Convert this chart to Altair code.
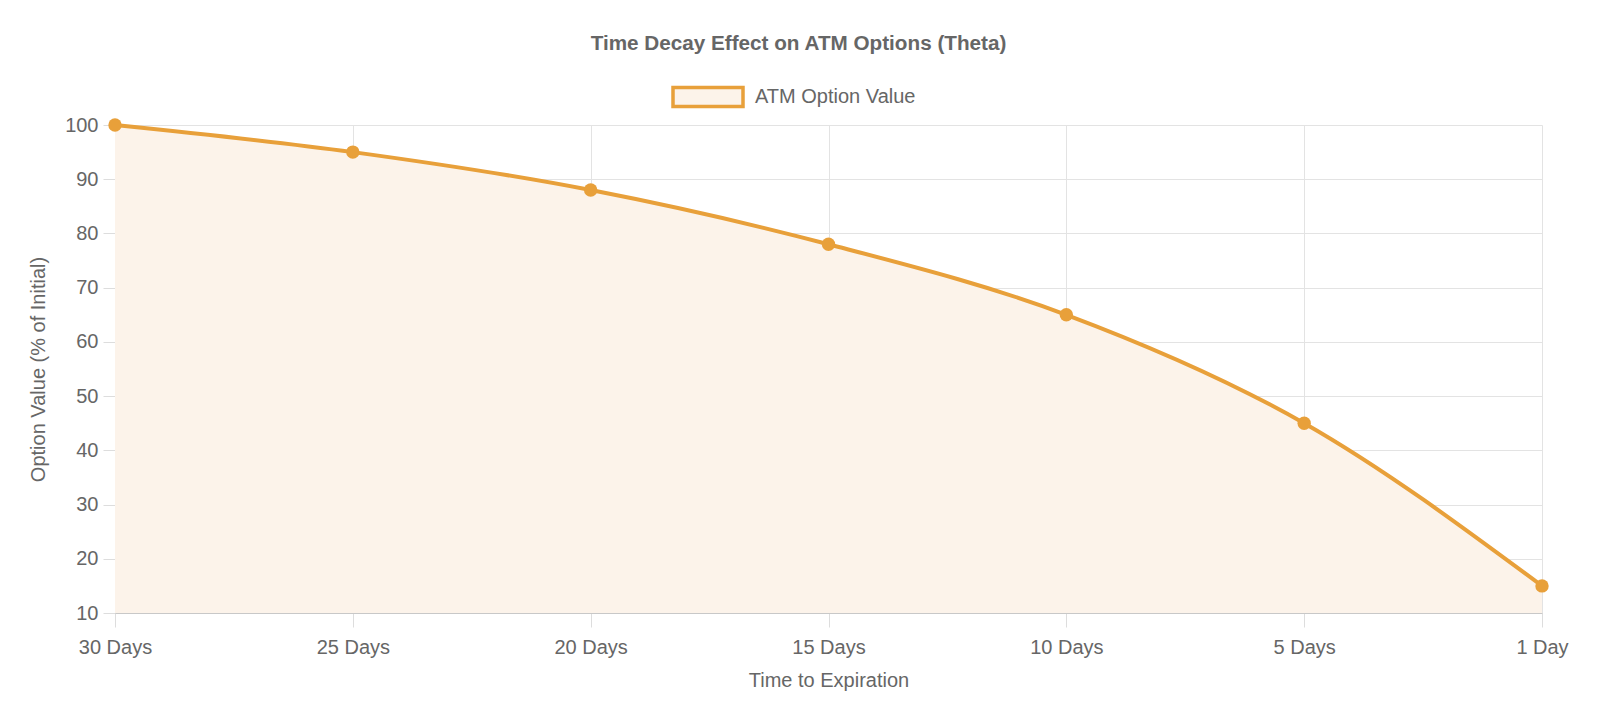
import altair as alt
import pandas as pd

days = ["30 Days", "25 Days", "20 Days", "15 Days", "10 Days", "5 Days", "1 Day"]
values = [100, 95, 88, 78, 65, 45, 15]
series = "ATM Option Value"

df = pd.DataFrame({"day": days, "value": values, "series": [series] * len(days), "base": [10] * len(days)})

ORANGE = "#E8A03A"
FILL = "#FCF3EA"
FONT = "Liberation Sans"
FS = 20

x = alt.X("day:N", sort=days, scale=alt.Scale(type="point", padding=0),
          axis=alt.Axis(title="Time to Expiration", labelAngle=0, grid=True, tickSize=14,
                        labelPadding=10, titlePadding=13))
y_scale = alt.Scale(domain=[10, 100], zero=False, nice=False)
y = alt.Y("value:Q", scale=y_scale,
          axis=alt.Axis(title="Option Value (% of Initial)", values=list(range(10, 101, 10)),
                        tickSize=12, labelPadding=5, titlePadding=16, grid=True))

base = alt.Chart(df)

area = base.mark_area(interpolate="monotone", color=FILL, opacity=1).encode(
    x=x, y=y, y2="base:Q")

color = alt.Color("series:N", scale=alt.Scale(domain=[series], range=[ORANGE]),
                  legend=alt.Legend(title=None, orient="none", legendX=556, legendY=-65,
                                    symbolType="M-1,-0.27H1V0.27H-1Z", symbolSize=4900,
                                    symbolFillColor=FILL, symbolStrokeColor=ORANGE,
                                    symbolStrokeWidth=3.5, labelFontSize=FS, labelColor="#666",
                                    labelFont=FONT, labelOffset=10, labelLimit=500))

line = base.mark_line(interpolate="monotone", strokeWidth=4).encode(x=x, y=y, color=color)
points = base.mark_circle(size=180, opacity=1, color=ORANGE).encode(x=x, y=y)

chart = alt.layer(area, line, points).properties(
    width=1584, height=696,
    title=alt.TitleParams("Time Decay Effect on ATM Options (Theta)", fontSize=20.7, fontWeight="bold",
                          color="#666", font=FONT, anchor="middle", dx=-30, offset=60),
    padding={"left": 20, "top": 25, "right": 23, "bottom": 14},
    autosize=alt.AutoSizeParams(type="fit", contains="padding"),
).configure_axis(
    gridColor="#e3e3e3", domainColor="#c8c8c8", tickColor="#dddddd", labelColor="#666",
    titleColor="#666", labelFontSize=FS, titleFontSize=FS, labelFont=FONT, titleFont=FONT,
    titleFontWeight="normal", domainWidth=1
).configure_view(stroke=None)

chart.save("out.html", embed_options={"renderer": "svg", "actions": False})
